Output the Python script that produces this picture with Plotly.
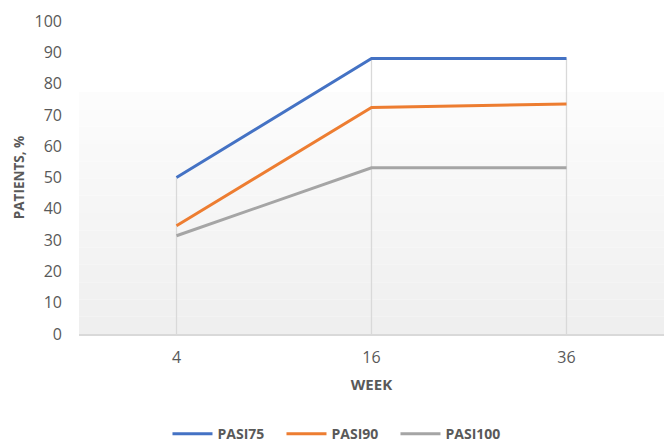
import plotly.graph_objects as go

weeks = ["4", "16", "36"]
pasi75 = [50, 88, 88]
pasi90 = [34.6, 72.4, 73.5]
pasi100 = [31.4, 53.1, 53.1]
y_ticks = [0, 10, 20, 30, 40, 50, 60, 70, 80, 90, 100]

series = [
    ("PASI75", pasi75, "#4472C4"),
    ("PASI90", pasi90, "#ED7D31"),
    ("PASI100", pasi100, "#A5A5A5"),
]

fig = go.Figure()

# drop lines from highest series down to the axis
top_series = [max(v) for v in zip(pasi75, pasi90, pasi100)]
fig.add_trace(go.Scatter(
    x=weeks, y=top_series, mode="markers", marker=dict(size=0.1, opacity=0),
    showlegend=False, hoverinfo="skip",
    error_y=dict(type="data", symmetric=False, array=[0] * len(weeks),
                 arrayminus=top_series, color="#d9d9d9", thickness=1.3, width=0)))

for name, vals, color in series:
    fig.add_trace(go.Scatter(x=weeks, y=vals, name=name, mode="lines",
                             line=dict(color=color, width=3)))

# subtle gradient background in lower part of plot area
n = 14
top_val = 77.3
for i in range(n):
    y0 = top_val * i / n
    y1 = top_val * (i + 1) / n
    frac = i / (n - 1)
    c = int(239 + (252 - 239) * frac)
    fig.add_shape(type="rect", xref="paper", yref="y", x0=0, x1=1, y0=y0, y1=y1,
                  fillcolor=f"rgb({c},{c},{c})", line=dict(width=0), layer="below")

fig.update_layout(
    width=665, height=442,
    margin=dict(l=79, r=1, t=21, b=108, autoexpand=False),
    plot_bgcolor="white", paper_bgcolor="white",
    font=dict(family="Open Sans, Liberation Sans, sans-serif", color="#595959"),
    showlegend=True,
    legend=dict(orientation="h", xref="container", yref="paper",
                x=0.509, xanchor="center", y=-0.32, yanchor="middle",
                font=dict(size=14, color="#595959", weight="bold"),
                itemwidth=40, entrywidth=59, entrywidthmode="pixels", tracegroupgap=0),
    xaxis=dict(type="category", range=[-0.5, 2.5], showgrid=False, automargin=False,
               showline=True, linecolor="#d9d9d9", linewidth=2, ticks="",
               ticklabelstandoff=8,
               tickfont=dict(size=16, color="#595959"),
               title=dict(text="WEEK", font=dict(size=15, color="#595959", weight="bold"),
                          standoff=12)),
    yaxis=dict(range=[0, 100], tickvals=y_ticks, showgrid=False, zeroline=False,
               showline=False, ticks="", ticklabelstandoff=16, automargin=False,
               tickfont=dict(size=16, color="#595959"),
               title=dict(text="PATIENTS, %", font=dict(size=13.5, color="#595959", weight="bold"),
                          standoff=6)),
)

fig.write_html("out.html", config={"displayModeBar": False},
               post_script="document.body.style.margin='0';")
